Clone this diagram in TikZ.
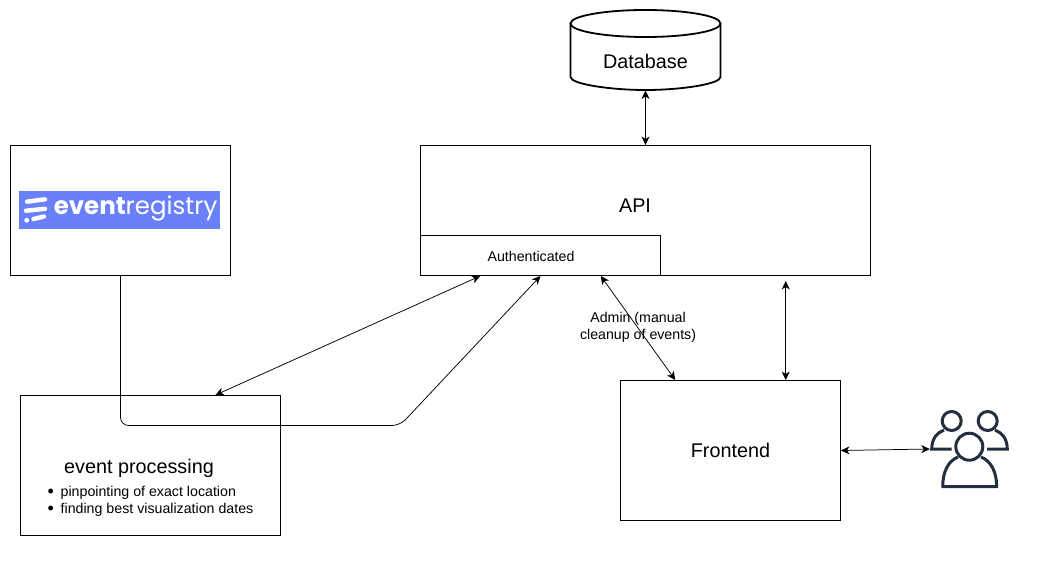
\documentclass[tikz,border=0pt]{standalone}
\usepackage{fontspec}
\setmainfont{Liberation Sans}
\newfontfamily\logofont{Poppins}
\usetikzlibrary{arrows.meta}
\definecolor{logoblue}{RGB}{106,128,250}
\definecolor{usernavy}{RGB}{35,47,62}
\newcommand{\listdot}{\raisebox{-.7pt}{\fontsize{18}{17}\selectfont\textbullet}\hspace{6.7pt}}
\tikzset{
	shorten > = 0pt,shorten < = 0pt,
	box/.style={draw,line width=.9pt,inner sep=0pt},
	link/.style={line width=.75pt,{Stealth[length=8.5pt,width=8pt,inset=2.5pt]}-{Stealth[length=8.5pt,width=8pt,inset=2.5pt]}},
	feed/.style={line width=.75pt,rounded corners=8pt,-{Stealth[length=8.5pt,width=8pt,inset=2.5pt]}},
	bigtext/.style={font=\fontsize{19.8}{24}\selectfont},
	smalltext/.style={font=\fontsize{14.2}{17}\selectfont},
	logostroke/.style={white,line width=4.4pt,line cap=round},
	userline/.style={usernavy,line width=3pt},
	tankline/.style={line width=1.8pt}
}
\begin{document}
\begin{tikzpicture}[x=1pt,y=-1pt]
	\useasboundingbox (0,0) rectangle (1039,567);

	\node[minimum width=150pt,minimum height=80pt,inner sep=0pt,outer sep=0pt] (database) at (645.5,50.5) {};
	\draw[tankline] (645.5,23.5) ellipse [x radius=75pt,y radius=13.5pt];
	\draw[tankline] (570.5,23.5) -- (570.5,77) .. controls (570.5,84) and (610,90) .. (645.5,90) .. controls (681,90) and (720.5,84) .. (720.5,77) -- (720.5,23.5);
	\node[bigtext] (databasetext) at (645.5,61) {Database};

	\node[box,minimum width=450pt,minimum height=130pt] (api) at (645.5,210.5) {};
	\node[bigtext] (apitext) at (635,206) {API};
	\node[box,minimum width=240pt,minimum height=40pt] (auth) at (540.5,255.5) {};
	\node[smalltext] (authtext) at (531,256) {Authenticated};

	\node[box,minimum width=220pt,minimum height=130pt] (source) at (120.5,210.5) {};
	\node[fill=logoblue,minimum width=201pt,minimum height=38pt,inner sep=0pt] (logo) at (119.5,210) {};
	\node[white,anchor=east,inner sep=0pt,font=\logofont\fontsize{24.5}{28}\selectfont] (logotext) at (217.5,208.5) {\textbf{event}registry};
	\draw[logostroke] (27,201.7) -- (45,199.3);
	\draw[logostroke] (26,210.7) -- (45,208.8);
	\draw[logostroke] (33.5,219) -- (44,216.5);
	\fill[white] (26.7,220.3) circle (2.4pt);

	\node[box,minimum width=260pt,minimum height=140pt] (processing) at (150.2,465.5) {};
	\node[bigtext] (processingtext) at (139,468) {event processing};
	\node[smalltext,anchor=west,align=left,inner sep=0pt] (processinglist) at (47.5,501.5) {\listdot pinpointing of exact location\\\listdot finding best visualization dates};

	\node[box,bigtext,minimum width=220pt,minimum height=140pt] (frontend) at (730.5,450.5) {Frontend};
	\node[minimum width=78pt,minimum height=80pt,inner sep=0pt] (users) at (969,449) {};

	% users icon
	\draw[userline] (951.7,421) circle (9.5pt);
	\draw[userline] (987.7,421) circle (9.5pt);
	\draw[userline] (969.3,446.7) circle (13.5pt);
	\draw[userline] (951.7,449) -- (931.7,449) .. controls (932,438) and (937,433) .. (944,430);
	\draw[userline] (987,449) -- (1007.3,449) .. controls (1007,438) and (1002,433) .. (995,430);
	\draw[userline,line join=round] (958,457) .. controls (948,461) and (942.7,472) .. (942.7,486.7) -- (996.7,486.7) .. controls (996.7,472) and (991,461) .. (981,457);

	\path (auth.south west) -- coordinate[pos=.25](authw-x) coordinate[pos=.75](authe-x) (auth.south east);
	\path (processing.north west) -- coordinate[pos=.75](procin-x) (processing.north east);
	\path (frontend.north west) -- coordinate[pos=.25](frontw-x) coordinate[pos=.75](fronte-x) (frontend.north east);
	\coordinate (apigap) at ([yshift=-5pt]fronte-x|-api.south);
	\coordinate (feedturn) at (source.south|-0,425.5);
	\coordinate (feedbend) at (400,425.5);

	\draw[link] (database.south) -- (database.south|-api.north);
	\draw[link] (authw-x) -- (procin-x);
	\draw[feed] (source.south) -- (feedturn) -- (feedbend) -- (auth.south);
	\draw[link] (authe-x) -- node[smalltext,align=center,pos=.36,xshift=10.5pt,yshift=-14pt] (admintext) {Admin (manual\\cleanup of events)} (frontw-x);
	\draw[link] (apigap) -- (fronte-x);
	\draw[link] (frontend.east) -- (users.west);
\end{tikzpicture}
\end{document}
